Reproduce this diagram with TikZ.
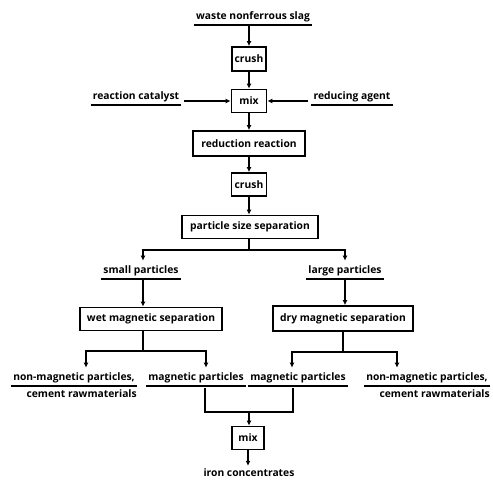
\documentclass[tikz,border=0pt]{standalone}
\usepackage{fontspec}
\setmainfont{Open Sans}
\usetikzlibrary{arrows.meta}
\begin{document}
\begin{tikzpicture}[x=1pt,y=-1pt,
  every node/.style={font=\bfseries\fontsize{10.3}{12}\selectfont, inner sep=0pt},
  box/.style={draw, line width=1.8pt, minimum height=23pt, inner xsep=2pt},
  txt/.style={inner xsep=2pt, inner ysep=3pt},
  ul/.style={line width=1.8pt},
  conn/.style={line width=1.3pt},
  arr/.style={conn, -{Latex[length=5pt,width=5pt]}}
]
\useasboundingbox (0,0) rectangle (493,481);
% nodes
\node[txt] (slag) at (253,17) {waste nonferrous slag};
\node[box, minimum width=34pt, minimum height=24pt] (crush1) at (249,59) {crush};
\node[box, minimum width=35pt] (mix1) at (249,101) {mix};
\node[txt] (cat) at (136,97) {reaction catalyst};
\node[txt] (red) at (352,97) {reducing agent};
\node[box, minimum width=112pt, minimum height=25pt] (rr) at (249,143.5) {reduction reaction};
\node[box, minimum width=35pt] (crush2) at (249,184.5) {crush};
\node[box, minimum width=136pt] (pss) at (250,227) {particle size separation};
\coordinate (b1) at (249,250);
\node[txt] (small) at (141,271) {small particles};
\node[txt] (large) at (345,271) {large particles};
\node[box, minimum width=142pt] (wet) at (151,319) {wet magnetic separation};
\node[box, minimum width=140pt, minimum height=25pt] (dry) at (343,318.5) {dry magnetic separation};
\coordinate (b2) at (143,351);
\coordinate (b3) at (343,352);
\node[txt] (nmL) at (74,378) {non-magnetic particles,};
\node[anchor=north east, inner sep=0pt] (cemL) at ([yshift=-3pt]nmL.south east) {cement rawmaterials};
\node[txt] (magL) at (196,378) {magnetic particles};
\node[txt] (magR) at (298,378) {magnetic particles};
\node[txt] (nmR) at (427,378) {non-magnetic particles,};
\node[anchor=north east, inner sep=0pt] (cemR) at ([yshift=-3pt]nmR.south east) {cement rawmaterials};
\coordinate (b4) at (249,412);
\node[box, minimum width=32pt] (mix2) at (248,438) {mix};
\node[txt] (iron) at (249,473) {iron concentrates};
% underlines
\foreach \n in {slag,cat,red,small,large,nmL,magL,magR,nmR}
  \draw[ul] (\n.south west) -- (\n.south east);
% connectors
\draw[arr] (slag.south -| crush1) -- (crush1);
\draw[arr] (crush1) -- (mix1);
\draw[arr] ([xshift=3pt]cat.east |- mix1) -- (mix1);
\draw[arr] ([xshift=-3pt]red.west |- mix1) -- (mix1);
\draw[arr] (mix1) -- (rr);
\draw[arr] (rr) -- (crush2);
\draw[arr] (crush2) -- (crush2 |- pss.north);
\draw[conn] (pss.south -| b1) -- (b1);
\draw[arr] (b1) -| ([yshift=2pt]small.north -| 143,0);
\draw[arr] (b1) -| ([yshift=2pt]large.north);
\draw[arr] (small.south -| 143,0) -- (wet.north -| 143,0);
\draw[arr] (large.south) -- (dry.north -| large.south);
\draw[conn] (wet.south -| b2) -- (b2);
\draw[arr] (b2) -| ([yshift=2pt]nmL.north -| 86,0);
\draw[arr] (b2) -| ([yshift=2pt]magL.north -| 206,0);
\draw[conn] (dry.south -| b3) -- (b3);
\draw[arr] (b3) -| ([yshift=2pt]magR.north -| 292,0);
\draw[arr] (b3) -| ([yshift=2pt]nmR.north -| 397,0);
\draw[conn] ([yshift=-2pt]magL.south -| 205,0) |- (b4);
\draw[conn] ([yshift=-2pt]magR.south -| 293,0) |- (b4);
\draw[arr] (b4) -- (b4 |- mix2.north);
\draw[arr] (mix2) -- (mix2 |- iron.north);
\end{tikzpicture}
\end{document}
